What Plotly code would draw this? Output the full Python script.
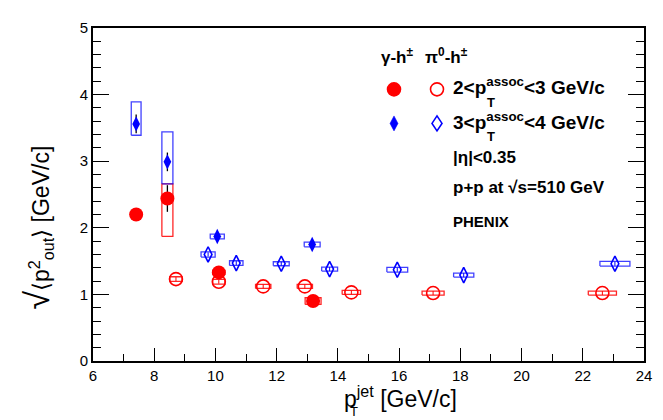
import plotly.graph_objects as go

# ---------------- data ----------------
# gamma-h, 2<pT assoc<3 (filled red circles)
g23_x = [7.41, 8.43, 10.11, 13.19]
g23_y = [2.20, 2.44, 1.33, 0.90]
g23_err = [0.04, 0.20, 0.04, 0.04]
g23_sx = [0.16, 0.18, 0.20, 0.26]
g23_slo = [0.03, 0.57, 0.03, 0.05]
g23_shi = [0.03, 0.22, 0.03, 0.05]

# gamma-h, 3<pT assoc<4 (filled blue diamonds)
g34_x = [7.41, 8.43, 10.06, 13.16]
g34_y = [3.56, 2.99, 1.87, 1.75]
g34_err = [0.14, 0.14, 0.05, 0.05]
g34_sx = [0.16, 0.18, 0.23, 0.26]
g34_slo = [0.17, 0.33, 0.035, 0.035]
g34_shi = [0.33, 0.45, 0.035, 0.035]

# pi0-h, 2<pT assoc<3 (open red circles)
p23_x = [8.71, 10.11, 11.56, 12.92, 14.44, 17.11, 22.64]
p23_y = [1.23, 1.19, 1.12, 1.12, 1.03, 1.02, 1.02]
p23_err = [0.03, 0.03, 0.03, 0.03, 0.03, 0.03, 0.03]
p23_sx = [0.20, 0.20, 0.25, 0.25, 0.30, 0.36, 0.46]
p23_sy = [0.035, 0.035, 0.03, 0.03, 0.03, 0.03, 0.03]

# pi0-h, 3<pT assoc<4 (open blue diamonds)
p34_x = [9.76, 10.68, 12.15, 13.73, 15.94, 18.11, 23.05]
p34_y = [1.60, 1.47, 1.46, 1.38, 1.37, 1.29, 1.46]
p34_err = [0.03, 0.03, 0.03, 0.03, 0.03, 0.03, 0.03]
p34_sx = [0.23, 0.22, 0.26, 0.26, 0.34, 0.33, 0.49]
p34_sy = [0.04, 0.035, 0.03, 0.03, 0.035, 0.03, 0.035]

x_ticks = [6, 8, 10, 12, 14, 16, 18, 20, 22, 24]
y_ticks = [0, 1, 2, 3, 4, 5]

RED = "#ff0000"
BLUE = "#0000ff"
FONT = "Liberation Sans"


def box_path(xs, ys, sx, lo, hi):
    bx, by = [], []
    for x, y, w, l, h in zip(xs, ys, sx, lo, hi):
        bx += [x - w, x + w, x + w, x - w, x - w, None]
        by += [y - l, y - l, y + h, y + h, y - l, None]
    return bx, by


fig = go.Figure()

# systematic boxes
for xs, ys, sx, lo, hi, col in [
    (g23_x, g23_y, g23_sx, g23_slo, g23_shi, "rgba(255,0,0,0.85)"),
    (g34_x, g34_y, g34_sx, g34_slo, g34_shi, "rgba(0,0,255,0.75)"),
    (p23_x, p23_y, p23_sx, p23_sy, p23_sy, "rgba(255,0,0,0.85)"),
    (p34_x, p34_y, p34_sx, p34_sy, p34_sy, "rgba(0,0,255,0.75)"),
]:
    bx, by = box_path(xs, ys, sx, lo, hi)
    fig.add_trace(go.Scatter(x=bx, y=by, mode="lines",
                             line=dict(color=col, width=1.3),
                             hoverinfo="skip", showlegend=False))

# markers
fig.add_trace(go.Scatter(
    x=p23_x, y=p23_y, mode="markers", showlegend=False,
    error_y=dict(type="data", array=p23_err, color=RED, thickness=1, width=0),
    marker=dict(symbol="circle-open", size=13, color=RED, line=dict(width=1.6, color=RED))))
fig.add_trace(go.Scatter(
    x=p34_x, y=p34_y, mode="markers", showlegend=False,
    error_y=dict(type="data", array=p34_err, color=BLUE, thickness=1, width=0),
    marker=dict(symbol="diamond-tall-open", size=11, color=BLUE, line=dict(width=1.6, color=BLUE))))
fig.add_trace(go.Scatter(
    x=g23_x, y=g23_y, mode="markers", showlegend=False,
    error_y=dict(type="data", array=g23_err, color="black", thickness=1.3, width=0),
    marker=dict(symbol="circle", size=14, color=RED)))
fig.add_trace(go.Scatter(
    x=g34_x, y=g34_y, mode="markers", showlegend=False,
    error_y=dict(type="data", array=g34_err, color="black", thickness=1.3, width=0),
    marker=dict(symbol="diamond-tall", size=11, color=BLUE)))

# geometry helpers (pixel -> paper)
L, R, T, B = 85, 27, 11, 67
W, H = 663, 420
PW, PH = W - L - R, H - T - B


def px(X):
    return (X - L) / PW


def py(Y):
    return (H - B - Y) / PH


ann = []


def add_text(text, X, Y, size=18, xanchor="left", angle=0, weight="bold"):
    ann.append(dict(text=text, x=px(X), y=py(Y), xref="paper", yref="paper",
                    xanchor=xanchor, yanchor="middle", showarrow=False, textangle=angle,
                    font=dict(family=FONT, size=size, color="black", weight=weight)))


# legend texts
add_text("γ-h<sup>±</sup>", 371, 40, size=17)
add_text("π<sup>0</sup>-h<sup>±</sup>", 415, 40, size=17)
add_text("2<p<sup>assoc</sup><3 GeV/c", 443, 71, size=19)
add_text("T", 483, 87, size=13, xanchor="center")
add_text("3<p<sup>assoc</sup><4 GeV/c", 443, 106, size=19)
add_text("T", 483, 122, size=13, xanchor="center")
add_text("|η|<0.35", 443, 144, size=17)
add_text("p+p at √s=510 GeV", 443, 175, size=17)
add_text("PHENIX", 443, 210, size=15)

# axis titles
add_text("p<sup>jet</sup> [GeV/c]", 334, 390, size=23, weight="normal")
add_text("T", 346, 405, size=13, xanchor="center", weight="normal")
add_text("<span style=\"font-size:34px\">√</span>⟨p<sup>2</sup><sub>out</sub>⟩ [GeV/c]",
         30, 216, size=23, xanchor="center", angle=-90, weight="normal")

# legend symbols
shapes = []


def circ(X, Y, r, filled, col):
    shapes.append(dict(type="circle", xref="paper", yref="paper", xsizemode="pixel",
                       ysizemode="pixel", xanchor=px(X), yanchor=py(Y),
                       x0=-r, x1=r, y0=-r, y1=r,
                       fillcolor=col if filled else "rgba(0,0,0,0)",
                       line=dict(color=col, width=1.6)))


def diam(X, Y, hw, hh, filled, col):
    shapes.append(dict(type="path", xref="paper", yref="paper", xsizemode="pixel",
                       ysizemode="pixel", xanchor=px(X), yanchor=py(Y),
                       path=f"M 0 {hh} L {hw} 0 L 0 {-hh} L {-hw} 0 Z",
                       fillcolor=col if filled else "rgba(0,0,0,0)",
                       line=dict(color=col, width=1.6 if not filled else 0.5)))


circ(386, 74, 6.5, True, RED)
circ(429, 74, 6.5, False, RED)
diam(386, 109, 4, 7.5, True, BLUE)
diam(429, 109, 5, 7.5, False, BLUE)

axis_common = dict(showline=True, linecolor="black", linewidth=2,
                   ticks="inside", tickcolor="black", tickwidth=1.2, showgrid=False,
                   zeroline=False, tickfont=dict(family=FONT, size=15, color="black"))

fig.update_layout(
    width=W, height=H,
    margin=dict(l=L, r=R, t=T, b=B, pad=0),
    paper_bgcolor="white", plot_bgcolor="white",
    xaxis=dict(range=[6, 24], tickmode="array", tickvals=x_ticks,
               ticktext=[str(v) for v in x_ticks], ticklen=13, mirror=True,
               minor=dict(dtick=1, ticks="inside", ticklen=7, tickcolor="black"),
               **axis_common),
    yaxis=dict(range=[0, 5], tickmode="array", tickvals=y_ticks,
               ticktext=[str(v) for v in y_ticks], ticklen=16, mirror="ticks",
               minor=dict(dtick=0.2, ticks="inside", ticklen=8, tickcolor="black"),
               **axis_common),
    annotations=ann,
    shapes=shapes,
    showlegend=False,
)

fig.write_html("out.html")
